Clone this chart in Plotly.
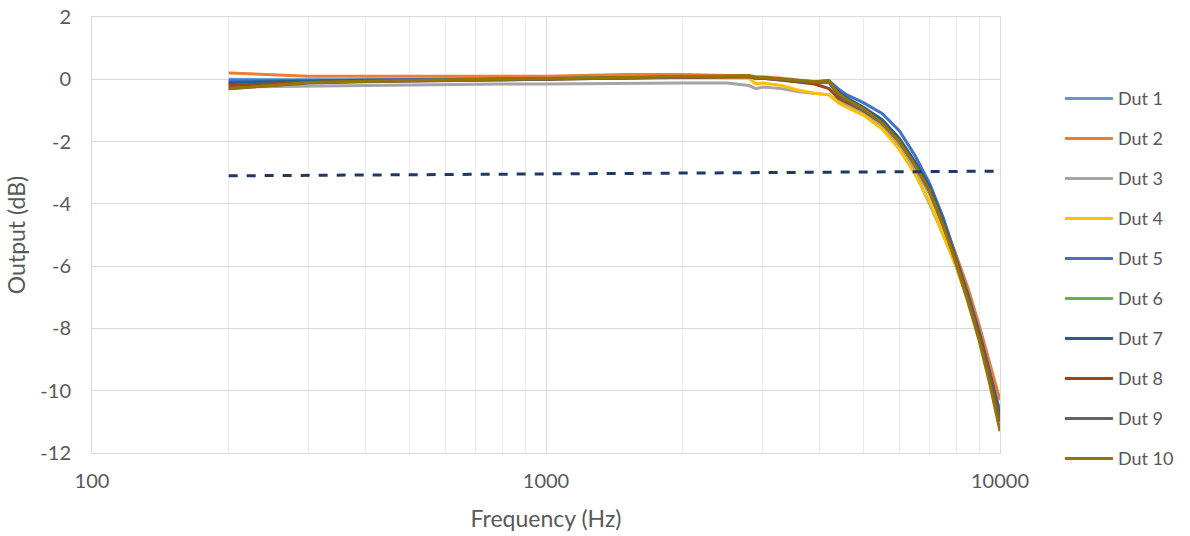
import plotly.graph_objects as go

freq = [200, 300, 400, 600, 800, 1000, 1500, 2000, 2500, 2800, 2900, 3000, 3300, 3600, 3900,
        4200, 4400, 4600, 5000, 5500, 6000, 6500, 7000, 7500, 8000, 8500, 9000, 9500, 10000]

dut1 = [0.0, -0.02, -0.02, -0.01, 0.0, 0.02, 0.05, 0.07, 0.07, 0.08, 0.02, 0.03, -0.03, -0.08, -0.12,
        -0.1, -0.5, -0.7, -1.05, -1.5, -2.15, -3.0, -4.0, -5.0, -6.0, -7.1, -8.2, -9.4, -10.7]
dut2 = [0.2, 0.1, 0.1, 0.1, 0.1, 0.1, 0.15, 0.15, 0.12, 0.12, 0.08, 0.08, 0.03, -0.03, -0.08,
        -0.05, -0.45, -0.65, -0.95, -1.35, -1.95, -2.7, -3.45, -4.5, -5.6, -6.7, -7.9, -9.1, -10.3]
dut3 = [-0.25, -0.22, -0.2, -0.15, -0.15, -0.15, -0.12, -0.12, -0.12, -0.2, -0.3, -0.25, -0.3, -0.4, -0.45,
        -0.5, -0.7, -0.85, -1.1, -1.5, -2.1, -2.85, -3.7, -4.75, -5.9, -7.0, -8.2, -9.5, -10.9]
dut4 = [-0.1, -0.05, -0.03, -0.02, 0.0, 0.02, 0.05, 0.06, 0.05, 0.03, -0.15, -0.12, -0.2, -0.35, -0.45,
        -0.5, -0.75, -0.9, -1.15, -1.6, -2.25, -3.05, -3.95, -5.0, -6.0, -7.1, -8.3, -9.6, -11.0]
dut5 = [-0.05, -0.03, -0.02, -0.01, 0.0, 0.02, 0.05, 0.08, 0.08, 0.1, 0.05, 0.05, 0.0, -0.05, -0.08,
        -0.05, -0.3, -0.5, -0.75, -1.1, -1.65, -2.45, -3.35, -4.45, -5.7, -6.9, -8.1, -9.4, -10.7]
dut6 = [-0.15, -0.08, -0.05, -0.03, 0.0, 0.02, 0.05, 0.08, 0.08, 0.1, 0.05, 0.05, 0.0, -0.05, -0.1,
        -0.05, -0.45, -0.65, -0.95, -1.35, -1.95, -2.7, -3.5, -4.6, -5.8, -7.0, -8.2, -9.5, -10.8]
dut7 = [-0.1, -0.05, -0.03, -0.02, 0.0, 0.02, 0.05, 0.08, 0.08, 0.1, 0.05, 0.05, 0.0, -0.05, -0.1,
        -0.05, -0.4, -0.6, -0.9, -1.3, -1.9, -2.65, -3.45, -4.55, -5.75, -6.95, -8.15, -9.45, -10.8]
dut8 = [-0.2, -0.1, -0.06, -0.04, -0.02, 0.0, 0.04, 0.06, 0.06, 0.08, 0.03, 0.03, -0.02, -0.08, -0.15,
        -0.3, -0.6, -0.75, -1.0, -1.4, -2.0, -2.75, -3.6, -4.7, -5.8, -7.0, -8.2, -9.5, -10.9]
dut9 = [-0.3, -0.12, -0.08, -0.05, -0.02, 0.0, 0.04, 0.07, 0.07, 0.09, 0.04, 0.04, -0.01, -0.06, -0.1,
        -0.08, -0.5, -0.7, -1.0, -1.4, -2.0, -2.75, -3.55, -4.65, -5.85, -7.05, -8.3, -9.6, -11.0]
dut10 = [-0.3, -0.1, -0.06, -0.03, 0.0, 0.02, 0.06, 0.09, 0.09, 0.11, 0.06, 0.06, 0.01, -0.04, -0.08,
         -0.05, -0.45, -0.65, -0.95, -1.4, -2.0, -2.75, -3.6, -4.7, -5.9, -7.15, -8.4, -9.8, -11.3]

ref_freq = [200, 10000]
ref_db = [-3.1, -2.95]

names = ["Dut 1", "Dut 2", "Dut 3", "Dut 4", "Dut 5", "Dut 6", "Dut 7", "Dut 8", "Dut 9", "Dut 10"]
series = [dut1, dut2, dut3, dut4, dut5, dut6, dut7, dut8, dut9, dut10]
colors = ["#5B9BD5", "#ED7D31", "#A5A5A5", "#FFC000", "#4472C4",
          "#70AD47", "#255E91", "#9E480E", "#636363", "#997300"]

y_ticks = [2, 0, -2, -4, -6, -8, -10, -12]
y_ticktext = ["2", "0", "-2", "-4", "-6", "-8", "-10", "-12"]
x_ticks = [100, 1000, 10000]
x_ticktext = ["100", "1000", "10000"]

FONT = "Lato"
GREY = "#595959"
GRID = "#D9D9D9"

fig = go.Figure()
for n, s, c in zip(names, series, colors):
    fig.add_trace(go.Scatter(x=freq, y=s, mode="lines", name=n, legendgroup=n,
                             line=dict(color=c, width=3)))

fig.add_trace(go.Scatter(x=ref_freq, y=ref_db, mode="lines", showlegend=False,
                         line=dict(color="#1F3864", width=3, dash="dash")))

fig.update_layout(
    width=1190, height=536,
    paper_bgcolor="white", plot_bgcolor="white",
    margin=dict(l=92, r=190, t=17, b=83, autoexpand=False),
    font=dict(family=FONT, color=GREY, size=18),
    legend=dict(x=1.066, xanchor="left", y=0.855, yanchor="top",
                tracegroupgap=13.6, itemwidth=48, font=dict(size=18, color=GREY),
                bgcolor="rgba(0,0,0,0)"),
    xaxis=dict(type="log", range=[2, 4], tickvals=x_ticks, ticktext=x_ticktext,
               automargin=False, ticklabeloverflow="allow",
               showgrid=True, gridcolor=GRID, gridwidth=1,
               minor=dict(tickvals=[200, 300, 400, 500, 600, 700, 800, 900,
                                    2000, 3000, 4000, 5000, 6000, 7000, 8000, 9000],
                          showgrid=True, gridcolor="#EDEDED", ticks=""),
               ticks="outside", ticklen=10, tickcolor="rgba(0,0,0,0)",
               showline=True, mirror=True, linecolor=GRID, linewidth=1, zeroline=False,
               title=dict(text="Frequency (Hz)", font=dict(size=23, color=GREY), standoff=19),
               tickfont=dict(size=20, color=GREY)),
    yaxis=dict(range=[-12, 2], tickvals=y_ticks, ticktext=y_ticktext,
               automargin=False, ticklabeloverflow="allow",
               showgrid=True, gridcolor=GRID, gridwidth=1,
               zeroline=False, showline=True, mirror=True, linecolor=GRID, linewidth=1,
               ticks="outside", ticklen=16, tickcolor="rgba(0,0,0,0)",
               title=dict(text="Output (dB)", font=dict(size=23, color=GREY), standoff=8),
               tickfont=dict(size=20, color=GREY)),
)

fig.write_html("out.html", config={"displayModeBar": False},
               post_script="document.body.style.margin='0';")
